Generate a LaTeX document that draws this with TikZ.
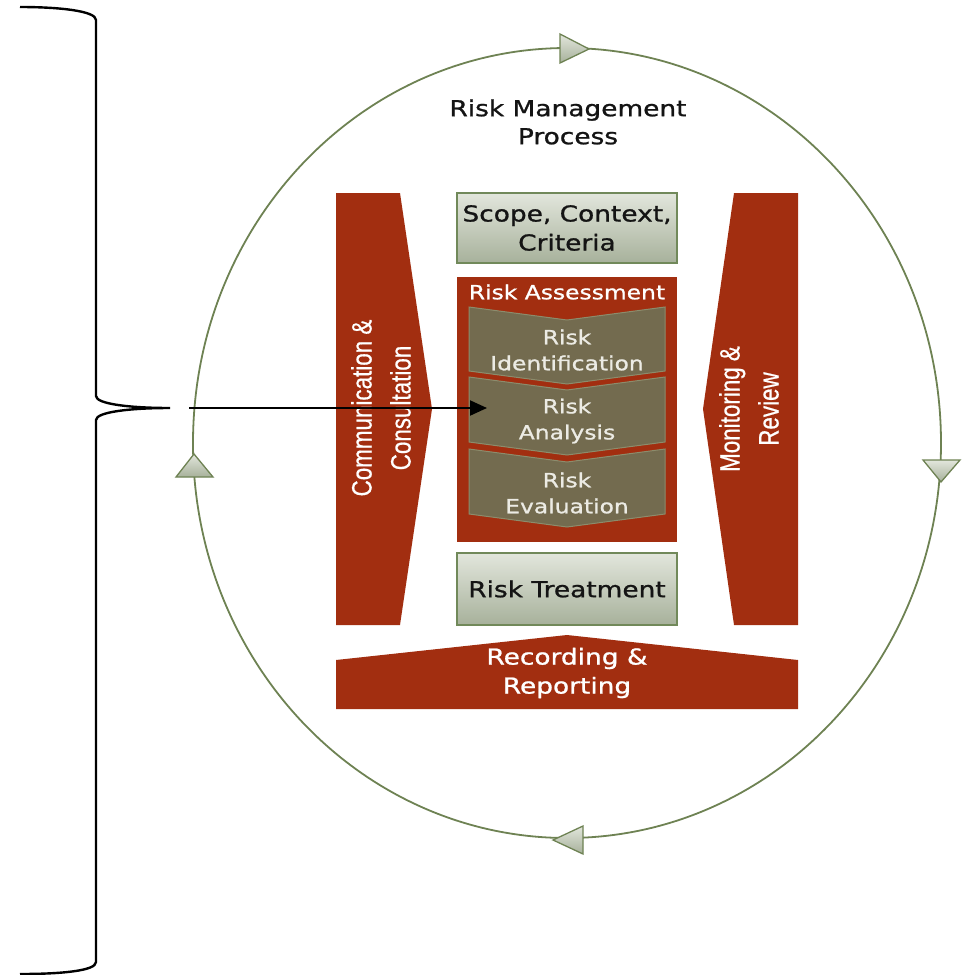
\documentclass[tikz,border=0pt]{standalone}
\usepackage{fontspec}
\newfontfamily\widefont{DejaVu Sans}[FakeStretch=1.2, FakeBold=1]
\newfontfamily\narrowfont{Liberation Sans}[FakeStretch=0.8, FakeBold=0.6]
\usetikzlibrary{arrows.meta}
\definecolor{rmred}{HTML}{A22E10}
\definecolor{ringgreen}{HTML}{6E8253}
\definecolor{boxtop}{HTML}{E2E6DC}
\definecolor{boxbot}{HTML}{A7B19B}
\definecolor{boxedge}{HTML}{71895A}
\definecolor{chevfill}{HTML}{736B4F}
\definecolor{chevedge}{HTML}{8C8C6C}
\definecolor{chevtext}{HTML}{ECEBE4}
\definecolor{darktext}{HTML}{141414}
\tikzset{
  redshape/.style={fill=rmred},
  greenbox/.style={draw=boxedge, line width=1.5pt, top color=boxtop, bottom color=boxbot,
    minimum width=220pt, inner sep=0pt, align=center, text=darktext,
    font=\widefont\fontsize{22}{29}\selectfont},
  chevshape/.style={fill=chevfill, draw=chevedge, line width=1pt},
  chevtxt/.style={align=center, text=chevtext, font=\widefont\fontsize{19.5}{26}\selectfont},
  ring/.style={draw=ringgreen, line width=1.8pt},
  marker/.style={draw=ringgreen, line width=1.3pt, top color=boxtop, bottom color=boxbot, line join=miter},
  sidetxt/.style={align=center, text=white, rotate=90, font=\narrowfont\fontsize{28}{39}\selectfont},
  whitetxt/.style={align=center, text=white, font=\widefont\fontsize{22}{29}\selectfont},
  bracepath/.style={draw=black, line width=2.4pt},
  pointer/.style={draw=black, line width=2pt, -{Triangle[length=17pt,width=15pt]}}
}
\begin{document}
\begin{tikzpicture}[x=1pt,y=-1pt]
\useasboundingbox (0,0) rectangle (967,975);
% ring
\draw[ring] (567,443) ellipse [x radius=374pt, y radius=395pt];
% ring markers
\path[marker] (560,34) -- (589,49) -- (560,63) -- cycle;
\path[marker] (923,460) -- (960,460) -- (941,482) -- cycle;
\path[marker] (583,826) -- (583,854) -- (553,840) -- cycle;
\path[marker] (176,477) -- (213,477) -- (194,454) -- cycle;
% title
\node[align=center, text=darktext, font=\widefont\fontsize{22}{28}\selectfont] (title) at (568,122) {Risk Management\\Process};
% left and right shapes
\fill[redshape] (336,193) -- (400,193) -- (432,409) -- (400,625) -- (336,625) -- cycle;
\node[sidetxt] (comm) at (381,408) {Communication \&\\Consultation};
\fill[redshape] (734,193) -- (798,193) -- (798,625) -- (734,625) -- (703,409) -- cycle;
\node[sidetxt] (mon) at (749,409) {Monitoring \&\\Review};
% scope box
\node[greenbox, minimum height=70pt] (scope) at (567,228) {Scope, Context,\\Criteria};
% risk assessment box
\node[fill=rmred, minimum width=220pt, minimum height=265pt, inner sep=0pt] (assess) at (567,409.5) {};
\node[text=white, font=\widefont\fontsize{19.5}{24}\selectfont] (assesslbl) at (567,292) {Risk Assessment};
% chevrons
\draw[chevshape] (469,307) -- (567,320) -- (665,307) -- (665,371) -- (567,384) -- (469,371) -- cycle;
\node[chevtxt] (ident) at (567,350) {Risk\\Identification};
\draw[chevshape] (469,377) -- (567,390) -- (665,377) -- (665,442) -- (567,455) -- (469,442) -- cycle;
\node[chevtxt] (analysis) at (567,421) {Risk\\Analysis};
\draw[chevshape] (469,449) -- (567,462) -- (665,449) -- (665,514) -- (567,527) -- (469,514) -- cycle;
\node[chevtxt] (evaluation) at (567,493) {Risk\\Evaluation};
% treatment box
\node[greenbox, minimum height=72pt] (treat) at (567,589) {Risk Treatment};
% recording
\fill[redshape] (336,709) -- (336,660) -- (567,635) -- (798,660) -- (798,709) -- cycle;
\node[whitetxt] (record) at (567,673) {Recording \&\\Reporting};
% brace
\coordinate (bracetop) at (20,7);
\coordinate (cusp) at (170,408);
\coordinate (bracebot) at (20,974);
\draw[bracepath] (bracetop) .. controls (60,7) and (96,11) .. (96,20) -- (96,396)
  .. controls (96,404) and (130,408) .. (cusp)
  .. controls (130,408) and (96,412) .. (96,420) -- (96,962)
  .. controls (96,971) and (60,974) .. (bracebot);
% pointer
\coordinate (astart) at (189,408);
\coordinate (aend) at (487,408);
\draw[pointer] (astart) -- (aend);
\end{tikzpicture}
\end{document}
